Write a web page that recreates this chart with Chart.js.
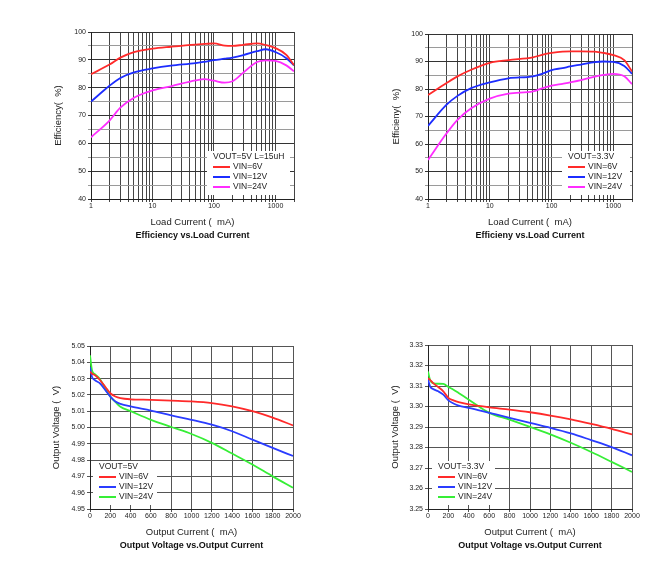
<!DOCTYPE html>
<html>
<head>
<meta charset="utf-8">
<script src="https://cdn.jsdelivr.net/npm/chart.js@4.4.1/dist/chart.umd.min.js"></script>
<style>
  body { margin: 0; background: #fff; width: 666px; height: 573px; position: relative; overflow: hidden; }
  canvas { position: absolute; }
</style>
</head>
<body>
<canvas id="eff5" width="266" height="232" style="left:40px;top:20px"></canvas>
<canvas id="eff33" width="266" height="232" style="left:378px;top:20px"></canvas>
<canvas id="vout5" width="265" height="228" style="left:40px;top:334px"></canvas>
<canvas id="vout33" width="266" height="228" style="left:378px;top:334px"></canvas>
<script>
// load current (mA) for the efficiency curves
const loadCurrent = [1, 2, 3, 5, 10, 20, 50, 70, 100, 150, 200, 300, 500, 700, 1000, 1500, 2000];

// VOUT=5V, L=15uH efficiency (%)
const eff5_6V  = [84.8, 88.3, 90.8, 92.8, 94.0, 94.7, 95.5, 95.7, 95.9, 95.1, 95.0, 95.4, 95.9, 95.3, 94.2, 91.8, 88.1];
const eff5_12V = [75.0, 80.7, 83.5, 85.5, 86.9, 87.9, 88.8, 89.3, 89.9, 90.4, 90.8, 91.7, 93.1, 93.8, 92.8, 90.6, 88.0];
const eff5_24V = [62.2, 68.2, 72.8, 76.4, 79.0, 80.5, 82.6, 83.1, 82.5, 81.8, 82.3, 85.4, 89.2, 89.8, 89.6, 88.0, 85.9];

// VOUT=3.3V efficiency (%)
const eff33_6V  = [77.8, 82.2, 84.6, 87.0, 89.5, 90.5, 91.5, 92.4, 93.1, 93.6, 93.7, 93.7, 93.6, 93.1, 92.3, 90.5, 86.4];
const eff33_12V = [66.6, 74.3, 77.5, 80.3, 82.4, 83.9, 84.6, 85.5, 86.9, 87.6, 88.2, 88.9, 89.8, 90.0, 89.9, 88.4, 85.5];
const eff33_24V = [54.2, 63.9, 68.8, 73.0, 76.5, 78.3, 79.1, 80.2, 81.2, 81.9, 82.4, 83.2, 84.5, 85.1, 85.5, 84.6, 81.8];

// output current (mA) for the load regulation curves
const outCurrent = [0, 20, 50, 100, 150, 200, 250, 300, 400, 600, 800, 1000, 1200, 1400, 1600, 1800, 2000];

// VOUT=5V output voltage (V)
const vout5_6V  = [5.0342, 5.0330, 5.0320, 5.0290, 5.0250, 5.0210, 5.0190, 5.0180, 5.0173, 5.0170, 5.0165, 5.0160, 5.0150, 5.0130, 5.0100, 5.0060, 5.0013];
const vout5_12V = [5.0370, 5.0310, 5.0290, 5.0270, 5.0230, 5.0190, 5.0160, 5.0145, 5.0129, 5.0104, 5.0074, 5.0047, 5.0017, 4.9977, 4.9926, 4.9875, 4.9825];
const vout5_24V = [5.0443, 5.0350, 5.0326, 5.0295, 5.0240, 5.0190, 5.0157, 5.0127, 5.0100, 5.0047, 5.0003, 4.9960, 4.9906, 4.9840, 4.9773, 4.9700, 4.9630];

// VOUT=3.3V output voltage (V)
const vout33_6V  = [3.3138, 3.3130, 3.3114, 3.3095, 3.3074, 3.3042, 3.3030, 3.3021, 3.3010, 3.2996, 3.2985, 3.2972, 3.2956, 3.2937, 3.2915, 3.2891, 3.2864];
const vout33_12V = [3.3133, 3.3098, 3.3085, 3.3074, 3.3058, 3.3030, 3.3015, 3.3004, 3.2993, 3.2969, 3.2945, 3.2920, 3.2896, 3.2869, 3.2836, 3.2802, 3.2762];
const vout33_24V = [3.3171, 3.3130, 3.3114, 3.3111, 3.3110, 3.3095, 3.3082, 3.3066, 3.3033, 3.2969, 3.2936, 3.2901, 3.2864, 3.2823, 3.2778, 3.2730, 3.2681];

// log axis gridlines and the ones that get a label
const logGrid = [1, 2, 3, 4, 5, 6, 7, 8, 9, 10, 20, 30, 40, 50, 60, 70, 80, 90,
                 100, 200, 300, 400, 500, 600, 700, 800, 900, 1000, 2000];
const logLabels = [1, 10, 100, 1000];

const seriesLabels = ['VIN=6V', 'VIN=12V', 'VIN=24V'];
const effColors = ['#ff2a2a', '#1c2cff', '#ff2cff'];
const voutColors = ['#ff2a2a', '#2a3cff', '#36ee36'];

Chart.defaults.font.family = '"Liberation Sans", Arial, sans-serif';
Chart.defaults.color = '#222';

// white legend box drawn inside the plot area
const boxLegend = {
  id: 'boxLegend',
  afterDatasetsDraw(chart, args, o) {
    const a = chart.chartArea;
    const ctx = chart.ctx;
    const x = o.corner === 'right' ? a.right - o.dx - o.width : a.left + o.dx;
    const y = a.bottom - o.dy - 44;
    ctx.save();
    ctx.fillStyle = '#fff';
    ctx.fillRect(x, y, o.width, 44);
    ctx.font = '8.5px "Liberation Sans", Arial, sans-serif';
    ctx.fillStyle = '#222';
    ctx.textBaseline = 'middle';
    ctx.fillText(o.heading, x + 6, y + 6);
    chart.data.datasets.forEach((ds, i) => {
      const ry = y + 16 + i * 10;
      ctx.strokeStyle = ds.borderColor;
      ctx.lineWidth = 2;
      ctx.beginPath();
      ctx.moveTo(x + 6, ry);
      ctx.lineTo(x + 23, ry);
      ctx.stroke();
      ctx.fillText(ds.label, x + 26, ry);
    });
    ctx.restore();
  }
};

function lines(xs, series, colors) {
  return series.map((ys, i) => ({
    label: seriesLabels[i],
    data: xs.map((x, j) => ({ x: x, y: ys[j] })),
    borderColor: colors[i],
    backgroundColor: colors[i],
    borderWidth: 1.8,
    pointRadius: 0,
    cubicInterpolationMode: 'monotone'
  }));
}

function axisTitle(text, pad) {
  return { display: true, text: text, font: { size: 9.5 }, color: '#222', padding: pad };
}

function build(id, opt) {
  new Chart(document.getElementById(id), {
    type: 'line',
    data: { datasets: opt.datasets },
    options: {
      responsive: false,
      animation: false,
      layout: { padding: { top: opt.padTop, right: 12, left: 0, bottom: 0 } },
      plugins: {
        legend: { display: false },
        tooltip: { enabled: false },
        title: {
          display: true, text: opt.title, position: 'bottom', fullSize: false,
          font: { size: 9, weight: 'bold' }, color: '#111',
          padding: { top: 0, bottom: 10.6 }
        },
        boxLegend: opt.legend
      },
      scales: { x: opt.x, y: opt.y }
    },
    plugins: [boxLegend]
  });
}

function effY(title, yPad, axisW) {
  return {
    min: 40, max: 100,
    afterFit: s => { s.width = axisW; },
    ticks: { stepSize: 5, padding: 2, font: { size: 7 }, callback: v => v % 10 === 0 ? String(v) : '' },
    grid: { color: c => (c.tick && c.tick.value % 10 === 0) ? '#333' : '#9a9a9a', tickLength: 3 },
    border: { color: '#222' },
    title: axisTitle(title, { top: yPad, bottom: 0 })
  };
}

function effX() {
  return {
    type: 'logarithmic', min: 1, max: 2000,
    afterBuildTicks: s => { s.ticks = logGrid.map(v => ({ value: v })); },
    afterFit: s => { s.height = 31.6; },
    ticks: { autoSkip: false, maxRotation: 0, padding: 0, font: { size: 7 },
             callback: v => logLabels.includes(v) ? String(v) : '' },
    grid: { color: '#454545', tickLength: 3 },
    border: { color: '#222' },
    title: axisTitle('Load Current (  mA)', { top: 0, bottom: 2.9 })
  };
}

function voutY(min, max, yPad) {
  return {
    min: min, max: max,
    afterFit: s => { s.width = 50; },
    ticks: { stepSize: 0.01, padding: 2, font: { size: 7 }, callback: v => v.toFixed(2) },
    grid: { color: '#555', tickLength: 3 },
    border: { color: '#222' },
    title: axisTitle('Output Voltage (  V)', { top: yPad, bottom: 0 })
  };
}

function voutX() {
  return {
    type: 'linear', min: 0, max: 2000,
    afterFit: s => { s.height = 31.6; },
    ticks: { stepSize: 200, autoSkip: false, maxRotation: 0, padding: 0, font: { size: 7 },
             callback: v => String(v) },
    grid: { color: '#555', tickLength: 3 },
    border: { color: '#222' },
    title: axisTitle('Output Current (  mA)', { top: 0, bottom: 2.9 })
  };
}

build('eff5', {
  datasets: lines(loadCurrent, [eff5_6V, eff5_12V, eff5_24V], effColors),
  title: 'Efficiency vs.Load Current',
  padTop: 12,
  x: effX(),
  y: effY('Efficiency(  %)', 12.6, 51),
  legend: { heading: 'VOUT=5V L=15uH', corner: 'right', dx: 4, dy: 4, width: 83 }
});

build('eff33', {
  datasets: lines(loadCurrent, [eff33_6V, eff33_12V, eff33_24V], effColors),
  title: 'Efficieny vs.Load Current',
  padTop: 14,
  x: effX(),
  y: effY('Efficieny(  %)', 13, 50),
  legend: { heading: 'VOUT=3.3V', corner: 'right', dx: 2, dy: 4, width: 68 }
});

build('vout5', {
  datasets: lines(outCurrent, [vout5_6V, vout5_12V, vout5_24V], voutColors),
  title: 'Output Voltage vs.Output Current',
  padTop: 12,
  x: voutX(),
  y: voutY(4.95, 5.05, 10.3),
  legend: { heading: 'VOUT=5V', corner: 'left', dx: 3, dy: 4, width: 64 }
});

build('vout33', {
  datasets: lines(outCurrent, [vout33_6V, vout33_12V, vout33_24V], voutColors),
  title: 'Output Voltage vs.Output Current',
  padTop: 11,
  x: voutX(),
  y: voutY(3.25, 3.33, 11.3),
  legend: { heading: 'VOUT=3.3V', corner: 'left', dx: 4, dy: 4, width: 63 }
});
</script>
</body>
</html>
